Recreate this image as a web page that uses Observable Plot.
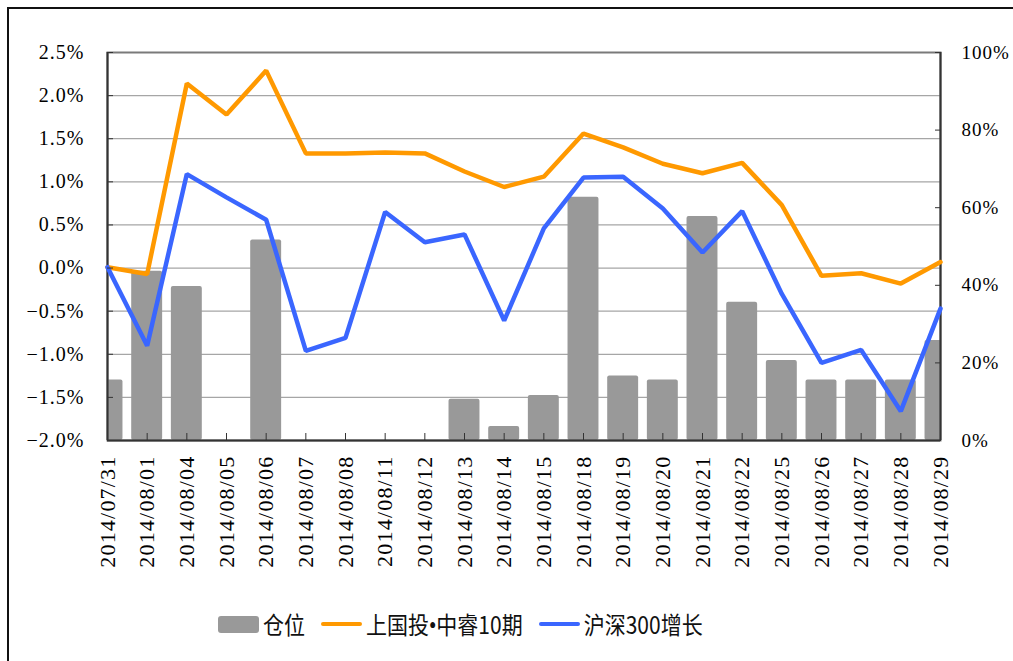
<!DOCTYPE html>
<html><head><meta charset="utf-8">
<script src="https://cdn.jsdelivr.net/npm/d3@7"></script>
<script src="https://cdn.jsdelivr.net/npm/@observablehq/plot@0.6"></script>
<style>
body{margin:0;width:1013px;height:661px;overflow:hidden;position:relative;background:#fff;}
#border{position:absolute;left:7px;top:7px;width:1040px;height:690px;border:2.5px solid #111;box-sizing:border-box;pointer-events:none;}
#chart{position:absolute;left:0;top:0;}
#chart svg text{font-family:"Liberation Serif",serif;}
#chart svg g[aria-label="x-axis tick label"] text{letter-spacing:1.2px;}
#chart svg g[aria-label="y-axis tick label"] text{letter-spacing:1px;}
#legend{position:absolute;top:608px;left:218px;height:32px;display:flex;align-items:center;font-family:"Noto Sans CJK SC",sans-serif;font-size:21px;color:#111;white-space:nowrap;}
#legend .sw{display:inline-block;width:41px;margin-right:4px;}
#legend .bar{height:17px;background:#999;border-radius:3px;}
#legend .ln{height:4.5px;border-radius:3px;}
#legend .t{margin-right:16px;display:inline-block;transform:scaleY(1.15);}
#legend .dot{font-family:"Liberation Serif",serif;}
</style></head>
<body>
<div id="chart"></div>
<div id="legend">
  <span class="sw bar"></span><span class="t">仓位</span>
  <span class="sw ln" style="background:#FF9900"></span><span class="t">上国投<span class="dot">•</span>中睿10期</span>
  <span class="sw ln" style="background:#3A66FF"></span><span class="t">沪深300增长</span>
</div>
<div id="border"></div>
<script>
const dates = ["2014/07/31","2014/08/01","2014/08/04","2014/08/05","2014/08/06","2014/08/07","2014/08/08","2014/08/11","2014/08/12","2014/08/13","2014/08/14","2014/08/15","2014/08/18","2014/08/19","2014/08/20","2014/08/21","2014/08/22","2014/08/25","2014/08/26","2014/08/27","2014/08/28","2014/08/29"];
// 仓位 (%), right axis
const position = [15.6,43.6,39.7,0,51.7,0,0,0,0,10.6,3.6,11.6,62.7,16.6,15.6,57.7,35.6,20.6,15.6,15.6,15.6,25.8];
// 上国投•中睿10期 (%), left axis
const fund = [0.01,-0.07,2.14,1.78,2.29,1.33,1.33,1.34,1.33,1.12,0.94,1.06,1.56,1.40,1.21,1.10,1.22,0.73,-0.09,-0.06,-0.18,0.07];
// 沪深300增长 (%), left axis
const hs300 = [0.01,-0.90,1.09,0.82,0.56,-0.96,-0.81,0.65,0.30,0.39,-0.61,0.46,1.05,1.06,0.69,0.18,0.66,-0.30,-1.10,-0.95,-1.66,-0.47];
const leftTicks = [-2.0,-1.5,-1.0,-0.5,0.0,0.5,1.0,1.5,2.0,2.5];
const rightTicks = [0,20,40,60,80,100];

const yMin = -2.0, yMax = 2.5;
const toLeft = p => yMin + p * (yMax - yMin) / 100;
const toRight = v => (v - yMin) / (yMax - yMin) * 100;
const rows = dates.map((d, i) => ({i, date: d, pos: position[i], posY: toLeft(position[i]), fund: fund[i], hs: hs300[i]}));
const fmtL = d => (d < 0 ? "\u2212" : "") + Math.abs(d).toFixed(1) + "%";
const half = 0.39;
const serif = "Liberation Serif";

const chart = Plot.plot({
  width: 1013, height: 590,
  marginLeft: 107, marginRight: 73, marginTop: 52, marginBottom: 150,
  style: {fontFamily: "'Liberation Serif', serif", color: "#000", background: "transparent"},
  x: {type: "linear", domain: [0, dates.length - 1]},
  y: {domain: [yMin, yMax]},
  marks: [
    Plot.gridY(leftTicks.slice(1, -1), {stroke: "#a6a6a6", strokeOpacity: 1, strokeWidth: 1.2}),
    Plot.rectY(rows.filter(d => d.pos > 0), {x1: d => d.i - half, x2: d => d.i + half, y1: yMin, y2: "posY", fill: "#999999", rx: 2, clip: true}),
    Plot.frame({stroke: "#7a7a7a", strokeWidth: 2}),
    Plot.ruleX([0, dates.length - 1], {stroke: "#333", strokeWidth: 2}),
    Plot.ruleY([yMin], {stroke: "#333", strokeWidth: 2}),
    Plot.line(rows, {x: "i", y: "fund", stroke: "#FF9900", strokeWidth: 4.5, strokeLinejoin: "miter"}),
    Plot.line(rows, {x: "i", y: "hs", stroke: "#3A66FF", strokeWidth: 4.5, strokeLinejoin: "miter"}),
    Plot.axisY({anchor: "left", ticks: leftTicks, tickFormat: fmtL, tickSize: 0, tickPadding: 23, fontSize: 20, fontFamily: serif, label: null}),
    Plot.axisY({anchor: "left", ticks: leftTicks, tickFormat: () => "", tickSize: 6, dx: 6, stroke: "#333", label: null}),
    Plot.axisY({anchor: "right", ticks: rightTicks.map(toLeft), tickFormat: v => Math.round(toRight(v)) + "%", tickSize: 0, tickPadding: 21, fontSize: 19, fontFamily: serif, label: null}),
    Plot.axisY({anchor: "right", ticks: rightTicks.map(toLeft), tickFormat: () => "", tickSize: 6, dx: -6, stroke: "#333", label: null}),
    Plot.axisX({anchor: "bottom", ticks: d3.range(dates.length), tickFormat: i => dates[i], tickRotate: -90, tickSize: 0, tickPadding: 15, fontSize: 22, fontFamily: serif, label: null}),
    Plot.axisX({anchor: "bottom", ticks: d3.range(dates.length), tickFormat: () => "", tickSize: 7, dy: -7, stroke: "#333", label: null})
  ]
});
document.getElementById("chart").appendChild(chart);
</script>
</body></html>
